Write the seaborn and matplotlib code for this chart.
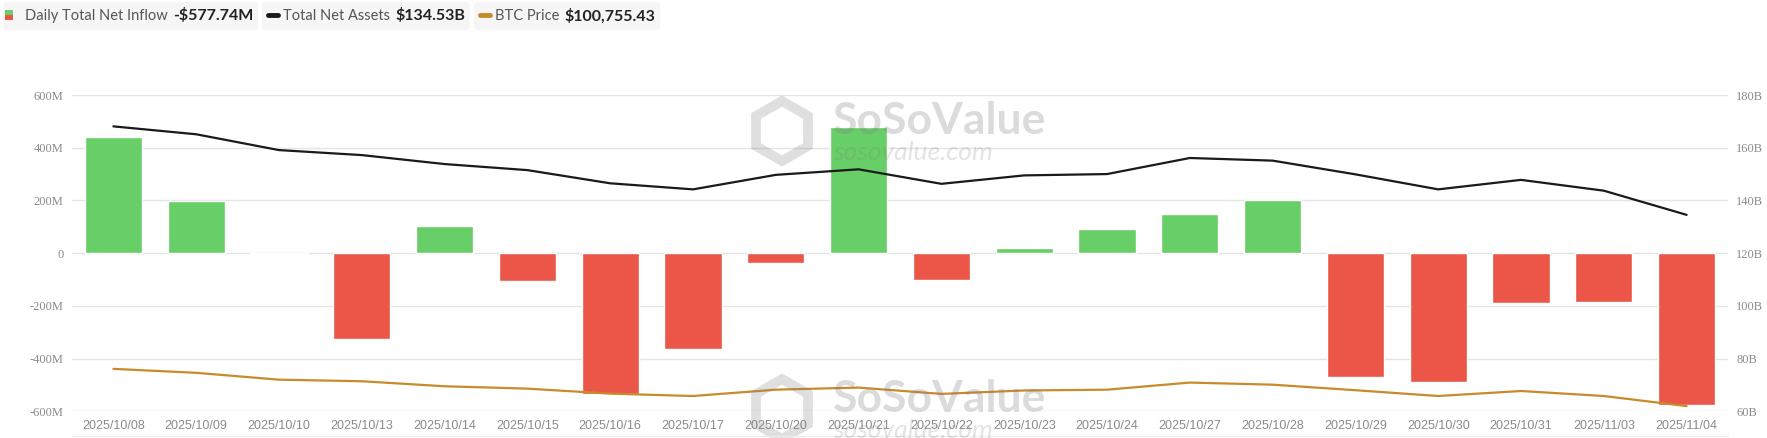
import numpy as np
import pandas as pd
import matplotlib
matplotlib.use("Agg")
import matplotlib.pyplot as plt
import seaborn as sns
from matplotlib.patches import FancyBboxPatch, Rectangle, RegularPolygon
from matplotlib.lines import Line2D
from matplotlib.transforms import IdentityTransform

# data
dates = ["2025/10/08", "2025/10/09", "2025/10/10", "2025/10/13", "2025/10/14",
         "2025/10/15", "2025/10/16", "2025/10/17", "2025/10/20", "2025/10/21",
         "2025/10/22", "2025/10/23", "2025/10/24", "2025/10/27", "2025/10/28",
         "2025/10/29", "2025/10/30", "2025/10/31", "2025/11/03", "2025/11/04"]
net_inflow = [440, 197, -5, -324, 103, -104, -534, -365, -39, 477,
              -100, 19, 91, 149, 202, -470, -487, -191, -186, -577.74]
total_assets = [168.1, 165.1, 159.1, 157.2, 153.8, 151.5, 146.5, 144.2, 149.7, 151.8,
                146.3, 149.5, 150.0, 156.1, 155.1, 149.9, 144.2, 147.8, 143.7, 134.53]
btc_price = [123360, 120960, 116800, 115840, 112800, 111360, 108320, 106880, 110720, 112000,
             108160, 110240, 110720, 115040, 113760, 110400, 106880, 109920, 106880, 100755.43]

left_ticks = [-600, -400, -200, 0, 200, 400, 600]
left_labels = ["-600M", "-400M", "-200M", "0", "200M", "400M", "600M"]
right_ticks = [60, 80, 100, 120, 140, 160, 180]
right_labels = ["60B", "80B", "100B", "120B", "140B", "160B", "180B"]

header_names = ["Daily Total Net Inflow", "Total Net Assets", "BTC Price"]
header_values = ["-$577.74M", "$134.53B", "$100,755.43"]

GREEN = "#68CE67"
RED = "#EB5648"
BLACK = "#1a1a1a"
GOLD = "#C98B2A"
TICK = "#8a8a8a"

df = pd.DataFrame({"date": dates, "inflow": net_inflow,
                   "assets": total_assets, "btc": btc_price})
df["sign"] = np.where(df["inflow"] >= 0, "in", "out")
df["pos"] = df.index

sns.set_theme(style="white")
plt.rcParams["font.family"] = ["Lato", "DejaVu Sans"]

W, H = 1767, 438
fig = plt.figure(figsize=(W / 100, H / 100), dpi=100)
ax = fig.add_axes([72 / W, 1 - 411.3 / H, (1728 - 72) / W, (411.3 - 95) / H])

sns.barplot(data=df, x="date", y="inflow", hue="sign", palette={"in": GREEN, "out": RED},
            dodge=False, width=0.69, saturation=1, legend=False, ax=ax)
ax.set_ylim(-600, 600)
ax.set_yticks(left_ticks)
ax.set_yticklabels(left_labels, family="Liberation Serif", fontsize=9, color=TICK)
ax.set_xticks(range(len(dates)))
ax.set_xticklabels(dates, family="Liberation Sans", fontsize=9, color=TICK)
ax.tick_params(axis="y", length=0, pad=6)
ax.tick_params(axis="x", length=0, pad=6)
ax.yaxis.grid(True, color="#e4e4e4", lw=1)
ax.set_axisbelow(True)
ax.set_xlabel("")
ax.set_ylabel("")

ax2 = ax.twinx()
sns.lineplot(data=df, x="pos", y="assets", color=BLACK, lw=1.6, ax=ax2)
ax2.set_ylim(60, 180)
ax2.set_yticks(right_ticks)
ax2.set_yticklabels(right_labels, family="Liberation Serif", fontsize=9, color=TICK)
ax2.tick_params(axis="y", length=0, pad=6)
ax2.set_ylabel("")
ax2.grid(False)

ax3 = ax.twinx()
sns.lineplot(data=df, x="pos", y="btc", color=GOLD, lw=1.6, ax=ax3)
ax3.set_ylim(97600, 289600)
ax3.axis("off")

for a in (ax, ax2):
    for s in a.spines.values():
        s.set_visible(False)
ax.set_xlim(-0.5, len(dates) - 0.5)


def P(x, y):
    return (x, H - y)


ident = IdentityTransform()
renderer = fig.canvas.get_renderer()

# header legend: icon, grey name, bold value, each in a light rounded box
x = 3
for i, (name, val) in enumerate(zip(header_names, header_values)):
    x0 = x
    if i == 0:
        fig.patches.append(Rectangle(P(x0 + 2, 15), 8, 5, fc=GREEN, ec="none",
                                     transform=ident, zorder=3))
        fig.patches.append(Rectangle(P(x0 + 2, 20), 8, 5, fc=RED, ec="none",
                                     transform=ident, zorder=3))
        tx = x0 + 22
    else:
        c = BLACK if i == 1 else GOLD
        fig.lines.append(Line2D([x0 + 6, x0 + 16], [H - 15, H - 15], lw=3.5, color=c,
                                solid_capstyle="round", transform=ident, zorder=3))
        tx = x0 + 21
    t1 = fig.text(tx / W, 1 - 16 / H, name, fontsize=10.5, color="#555555", va="center")
    tx += t1.get_window_extent(renderer).width + 5
    t2 = fig.text(tx / W, 1 - 16 / H, val, fontsize=11.5, color="#222222", va="center",
                  fontweight="bold")
    tx += t2.get_window_extent(renderer).width + 5
    fig.patches.insert(0, FancyBboxPatch(P(x0, 30), tx - x0, 28,
                                         boxstyle="round,pad=0,rounding_size=4",
                                         fc="#f6f6f7", ec="none", transform=ident))
    x = tx + 4

# watermarks
for dy in (0, 278):
    fig.patches.append(RegularPolygon(P(782, 131 + dy), 6, radius=30, orientation=0,
                                      fc="none", ec="#808080", lw=7, alpha=0.25,
                                      transform=ident))
    fig.text(833 / W, 1 - (121 + dy) / H, "SoSoValue", fontsize=32, fontweight="bold",
             color="#808080", alpha=0.28, va="center")
    fig.text(833 / W, 1 - (153 + dy) / H, "sosovalue.com", fontsize=19, style="italic",
             color="#808080", alpha=0.22, va="center")

fig.lines.append(Line2D([72, 1728], [H - 436, H - 436], lw=1, color="#ececec",
                        transform=ident))

fig.savefig("out.png", dpi=100)
